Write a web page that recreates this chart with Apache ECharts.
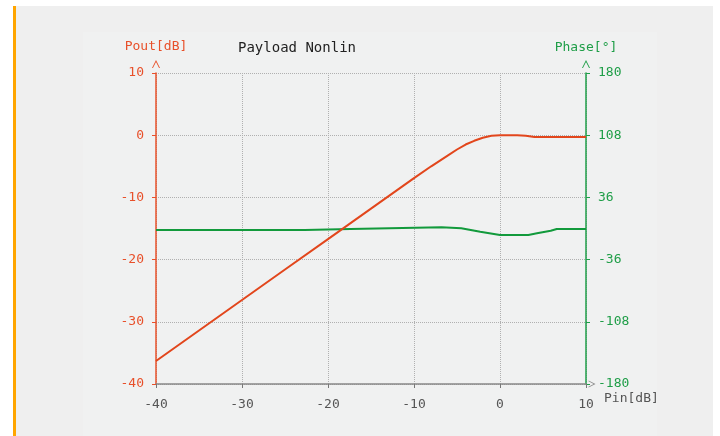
<!DOCTYPE html>
<html>
<head>
<meta charset="utf-8">
<script src="https://cdn.jsdelivr.net/npm/echarts@6/dist/echarts.min.js"></script>
<style>
html,body{margin:0;padding:0;background:#fff;}
#c{width:720px;height:436px;}
</style>
</head>
<body>
<div id="c"></div>
<script>
// ---- data ----
var xTicks = [-40, -30, -20, -10, 0, 10];
var poutTicks = [10, 0, -10, -20, -30, -40];
var phaseTicks = [180, 108, 36, -36, -108, -180];

var pin = [-40, -35, -30, -25, -20, -15, -10, -8, -6, -5, -4, -3, -2, -1, 0, 1, 2, 3, 4, 5, 6, 7, 8, 10];
var pout = [-36.3, -31.4, -26.5, -21.6, -16.7, -11.8, -6.9, -5.0, -3.2, -2.3, -1.5, -0.9, -0.4, -0.1, 0, 0, 0, -0.1, -0.3, -0.3, -0.3, -0.3, -0.3, -0.3];

var phasePin = [-40, -22.7, -22.6, -17.4, -17.3, -6.8, -6.7, -4.5, -2.3, 0, 3.3, 4.3, 5.9, 6.6, 10];
var phase = [-1.7, -1.7, -0.6, -0.6, 1.4, 1.4, 0.2, 0.2, -3.7, -7.5, -7.5, -5.6, -2.6, -0.6, -0.6];

var RED = '#e8502a', LINE_RED = '#e2461c', GREEN = '#1f9e48', GREY = '#555';
var FONT = 'DejaVu Sans Mono';
var arrow = 'path://M0,10 L5,0 L10,10 L8.8,10 L5,2.6 L1.2,10 Z';

function zip(a, b) { return a.map(function (v, i) { return [v, b[i]]; }); }

var chart = echarts.init(document.getElementById('c'));
chart.setOption({
  backgroundColor: 'transparent',
  animation: false,
  graphic: [
    { type: 'rect', z: -10, shape: { x: 16, y: 6, width: 697, height: 430 }, style: { fill: '#efefef' } },
    { type: 'rect', z: -9, shape: { x: 83, y: 32, width: 574, height: 404 }, style: { fill: '#f0f1f1' } },
    { type: 'rect', z: -8, shape: { x: 13, y: 6, width: 3, height: 430 }, style: { fill: '#ffa500' } }
  ],
  title: {
    text: 'Payload Nonlin',
    left: 233, top: 36,
    textStyle: { fontFamily: FONT, fontSize: 14, fontWeight: 'normal', color: '#222' }
  },
  grid: { left: 156, right: 134, top: 73, bottom: 52 },
  xAxis: {
    type: 'value', min: xTicks[0], max: xTicks[xTicks.length - 1], interval: 10,
    name: 'Pin[dB]', nameLocation: 'end', nameGap: 18,
    nameTextStyle: { color: GREY, fontFamily: FONT, fontSize: 13, verticalAlign: 'top', padding: [8, 0, 0, 0] },
    axisLine: { onZero: false, lineStyle: { color: '#888', width: 1.5 }, symbol: ['none', arrow], symbolSize: [8, 7], symbolOffset: [0, 6] },
    axisTick: { show: true, length: 4, lineStyle: { color: '#777' } },
    axisLabel: { color: GREY, fontFamily: FONT, fontSize: 13, margin: 14 },
    splitLine: { show: true, lineStyle: { type: 'dotted', color: '#b0b0b0', width: 1 } }
  },
  yAxis: [
    {
      type: 'value', min: poutTicks[poutTicks.length - 1], max: poutTicks[0], interval: 10, position: 'left',
      name: 'Pout[dB]', nameLocation: 'end', nameGap: 20,
      nameTextStyle: { color: RED, fontFamily: FONT, fontSize: 13 },
      axisLine: { show: true, onZero: false, lineStyle: { color: RED, width: 1.5 }, symbol: ['none', arrow], symbolSize: [8, 8], symbolOffset: [0, 9] },
      axisTick: { show: true, length: 4, lineStyle: { color: RED } },
      axisLabel: { color: RED, fontFamily: FONT, fontSize: 13, margin: 12 },
      splitLine: { show: true, lineStyle: { type: 'dotted', color: '#b0b0b0', width: 1 } }
    },
    {
      type: 'value', min: phaseTicks[phaseTicks.length - 1], max: phaseTicks[0], interval: 72, position: 'right',
      name: 'Phase[°]', nameLocation: 'end', nameGap: 19,
      nameTextStyle: { color: GREEN, fontFamily: FONT, fontSize: 13 },
      axisLine: { show: true, onZero: false, lineStyle: { color: GREEN, width: 1.5 }, symbol: ['none', arrow], symbolSize: [8, 8], symbolOffset: [0, 9] },
      axisTick: { show: true, length: 4, lineStyle: { color: GREEN } },
      axisLabel: { color: GREEN, fontFamily: FONT, fontSize: 13, margin: 12 },
      splitLine: { show: false }
    }
  ],
  series: [
    {
      type: 'line', yAxisIndex: 0, data: zip(pin, pout), showSymbol: false,
      lineStyle: { color: LINE_RED, width: 2 }, z: 3
    },
    {
      type: 'line', yAxisIndex: 1, data: zip(phasePin, phase), showSymbol: false,
      lineStyle: { color: '#129a3c', width: 2 }, z: 2
    }
  ]
});
</script>
</body>
</html>
